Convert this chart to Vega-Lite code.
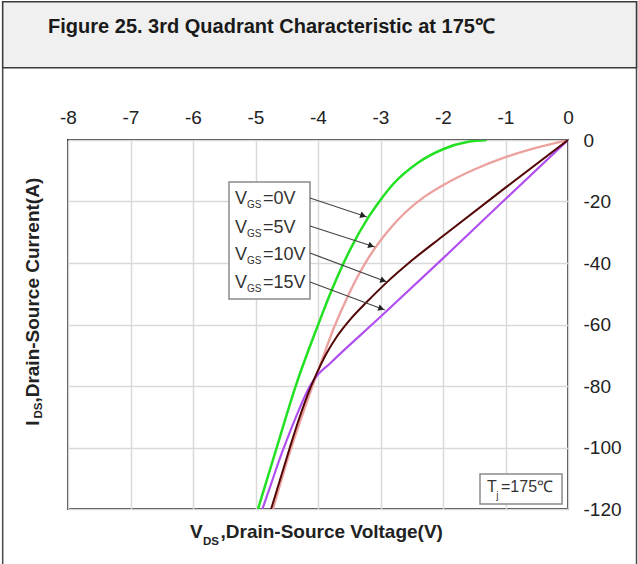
{
  "$schema": "https://vega.github.io/schema/vega-lite/v6.json",
  "width": 500,
  "height": 369,
  "autosize": {"type": "none"},
  "padding": {"left": 68, "top": 140, "right": 70, "bottom": 55},
  "background": "white",
  "config": {
    "view": {"stroke": "#3c3c3c", "strokeWidth": 2},
    "font": "Liberation Sans",
    "axis": {
      "grid": true, "gridColor": "#d9d9d9", "gridWidth": 1.5,
      "ticks": false, "domain": false,
      "labelFont": "Liberation Sans", "labelFontSize": 19, "labelColor": "#222222",
      "labelFlush": false, "labelOverlap": false, "title": null
    }
  },
  "datasets": {
    "curves": [
      {"s": "0V", "x": -1.3, "y": 0}, {"s": "0V", "x": -1.6, "y": -0.6}, {"s": "0V", "x": -2.0, "y": -3.0},
      {"s": "0V", "x": -2.4, "y": -7.4}, {"s": "0V", "x": -2.8, "y": -14.4}, {"s": "0V", "x": -3.0, "y": -19.5},
      {"s": "0V", "x": -3.2, "y": -25.3}, {"s": "0V", "x": -3.49, "y": -35.8}, {"s": "0V", "x": -3.78, "y": -48.8},
      {"s": "0V", "x": -4.0, "y": -60.2}, {"s": "0V", "x": -4.34, "y": -79}, {"s": "0V", "x": -4.66, "y": -100},
      {"s": "0V", "x": -4.96, "y": -120},
      {"s": "5V", "x": 0, "y": 0}, {"s": "5V", "x": -0.5, "y": -2.5}, {"s": "5V", "x": -1.0, "y": -5.6},
      {"s": "5V", "x": -1.5, "y": -9.6}, {"s": "5V", "x": -2.0, "y": -14.7}, {"s": "5V", "x": -2.3, "y": -18.5},
      {"s": "5V", "x": -2.6, "y": -23.5}, {"s": "5V", "x": -2.8, "y": -27.7}, {"s": "5V", "x": -3.0, "y": -32.7},
      {"s": "5V", "x": -3.2, "y": -38.6}, {"s": "5V", "x": -3.5, "y": -49.8}, {"s": "5V", "x": -3.75, "y": -61.3},
      {"s": "5V", "x": -3.95, "y": -72.3}, {"s": "5V", "x": -4.2, "y": -86.5}, {"s": "5V", "x": -4.45, "y": -101.5},
      {"s": "5V", "x": -4.72, "y": -120},
      {"s": "15V", "x": 0, "y": 0}, {"s": "15V", "x": -1.0, "y": -19.2}, {"s": "15V", "x": -2.0, "y": -38.5},
      {"s": "15V", "x": -3.0, "y": -57.5}, {"s": "15V", "x": -3.8, "y": -72.5}, {"s": "15V", "x": -4.05, "y": -77.5},
      {"s": "15V", "x": -4.15, "y": -80.8}, {"s": "15V", "x": -4.3, "y": -87.5}, {"s": "15V", "x": -4.45, "y": -95},
      {"s": "15V", "x": -4.6, "y": -103}, {"s": "15V", "x": -4.75, "y": -111.8}, {"s": "15V", "x": -4.89, "y": -120},
      {"s": "10V", "x": 0, "y": 0}, {"s": "10V", "x": -1.0, "y": -15.5}, {"s": "10V", "x": -2.0, "y": -31.2},
      {"s": "10V", "x": -2.5, "y": -39.2}, {"s": "10V", "x": -2.9, "y": -46.3}, {"s": "10V", "x": -3.22, "y": -52.7},
      {"s": "10V", "x": -3.49, "y": -58.5}, {"s": "10V", "x": -3.7, "y": -64}, {"s": "10V", "x": -3.86, "y": -69.3},
      {"s": "10V", "x": -4.0, "y": -75}, {"s": "10V", "x": -4.13, "y": -81}, {"s": "10V", "x": -4.3, "y": -90.5},
      {"s": "10V", "x": -4.45, "y": -100}, {"s": "10V", "x": -4.6, "y": -110}, {"s": "10V", "x": -4.75, "y": -120}
    ],
    "arrows": [
      {"x": -4.128, "y": -18.86, "x2": -3.216, "y2": -25.04},
      {"x": -4.128, "y": -27.97, "x2": -3.088, "y2": -34.8},
      {"x": -4.128, "y": -36.75, "x2": -2.896, "y2": -46.18},
      {"x": -4.128, "y": -46.18, "x2": -2.928, "y2": -55.28}
    ],
    "heads": [
      {"x": -3.277, "y": -24.62}, {"x": -3.149, "y": -34.4},
      {"x": -2.955, "y": -45.72}, {"x": -2.987, "y": -54.83}
    ]
  },
  "encoding": {
    "x": {
      "field": "x", "type": "quantitative",
      "scale": {"domain": [-8, 0], "nice": false, "zero": false},
      "axis": {"orient": "top", "values": [-8, -7, -6, -5, -4, -3, -2, -1, 0], "labelPadding": 13, "labelExpr": "datum.value + ''"}
    },
    "y": {
      "field": "y", "type": "quantitative",
      "scale": {"domain": [-120, 0], "nice": false, "zero": false},
      "axis": {"orient": "right", "values": [0, -20, -40, -60, -80, -100, -120], "labelAlign": "left", "labelBaseline": "middle", "labelPadding": 15, "labelExpr": "datum.value + ''"}
    }
  },
  "layer": [
    {
      "data": {"values": [{"x": -9.045, "x2": 1.096, "y": 45, "y2": -140}]},
      "mark": {"type": "rect", "fill": "white", "fillOpacity": 0, "stroke": "#4a4a4a", "strokeWidth": 1.5},
      "encoding": {"x2": {"field": "x2"}, "y2": {"field": "y2"}}
    },
    {
      "data": {"values": [{"x": -9.045, "x2": 1.096, "y": 45, "y2": 23.5}]},
      "mark": {"type": "rect", "fill": "#eff0ef", "stroke": "#3a3a3a", "strokeWidth": 1.5},
      "encoding": {"x2": {"field": "x2"}, "y2": {"field": "y2"}}
    },
    {
      "data": {"name": "curves"},
      "mark": {"type": "line", "interpolate": "monotone", "clip": true},
      "encoding": {
        "color": {"field": "s", "type": "nominal", "scale": {"domain": ["0V", "5V", "15V", "10V"], "range": ["#22e022", "#eba29e", "#b04ef0", "#520606"]}, "legend": null},
        "strokeWidth": {"field": "s", "type": "nominal", "scale": {"domain": ["0V", "5V", "15V", "10V"], "range": [2.5, 2, 2, 2.5]}, "legend": null}
      }
    },
    {
      "data": {"values": [{"x": -5.424, "x2": -4.128, "y": -13.66, "y2": -51.7}]},
      "mark": {"type": "rect", "fill": "white", "stroke": "#8a8a8a", "strokeWidth": 1.5},
      "encoding": {"x2": {"field": "x2"}, "y2": {"field": "y2"}}
    },
    {
      "data": {"values": [{"x": -1.408, "x2": -0.096, "y": -108.6, "y2": -118.4}]},
      "mark": {"type": "rect", "fill": "white", "stroke": "#8a8a8a", "strokeWidth": 1.5},
      "encoding": {"x2": {"field": "x2"}, "y2": {"field": "y2"}}
    },
    {
      "data": {"name": "arrows"},
      "mark": {"type": "rule", "color": "#444444", "strokeWidth": 1.2},
      "encoding": {"x2": {"field": "x2"}, "y2": {"field": "y2"}}
    },
    {
      "data": {"name": "heads"},
      "mark": {"type": "point", "shape": "triangle-right", "filled": true, "color": "#222222", "size": 45, "angle": 19.5, "opacity": 1},
      "encoding": {}
    },
    {
      "data": {"values": [
        {"t": "V", "x": -5.328, "y": -20.8}, {"t": "V", "x": -5.328, "y": -30.1},
        {"t": "V", "x": -5.328, "y": -39.0}, {"t": "V", "x": -5.328, "y": -48.1}
      ]},
      "mark": {"type": "text", "align": "left", "baseline": "alphabetic", "fontSize": 18, "color": "#333333"},
      "encoding": {"text": {"field": "t"}}
    },
    {
      "data": {"values": [
        {"t": "GS", "x": -5.136, "y": -22.1}, {"t": "GS", "x": -5.136, "y": -31.4},
        {"t": "GS", "x": -5.136, "y": -40.3}, {"t": "GS", "x": -5.136, "y": -49.4}
      ]},
      "mark": {"type": "text", "align": "left", "baseline": "alphabetic", "fontSize": 10, "color": "#333333"},
      "encoding": {"text": {"field": "t"}}
    },
    {
      "data": {"values": [
        {"t": "=0V", "x": -4.88, "y": -20.8}, {"t": "=5V", "x": -4.88, "y": -30.1},
        {"t": "=10V", "x": -4.88, "y": -39.0}, {"t": "=15V", "x": -4.88, "y": -48.1}
      ]},
      "mark": {"type": "text", "align": "left", "baseline": "alphabetic", "fontSize": 18, "color": "#333333"},
      "encoding": {"text": {"field": "t"}}
    },
    {
      "data": {"values": [{"t": "T", "x": -1.296, "y": -114.5}, {"t": "=175℃", "x": -1.072, "y": -114.5}]},
      "mark": {"type": "text", "align": "left", "baseline": "alphabetic", "fontSize": 16, "color": "#333333"},
      "encoding": {"text": {"field": "t"}}
    },
    {
      "data": {"values": [{"t": "j", "x": -1.15, "y": -116.6}]},
      "mark": {"type": "text", "align": "left", "baseline": "alphabetic", "fontSize": 10, "color": "#333333"},
      "encoding": {"text": {"field": "t"}}
    },
    {
      "data": {"values": [{"t": "Figure 25. 3rd Quadrant Characteristic at 175℃", "x": -4.744, "y": 34.8}]},
      "mark": {"type": "text", "align": "center", "baseline": "alphabetic", "fontSize": 20, "fontWeight": "bold", "color": "#1a1a1a"},
      "encoding": {"text": {"field": "t"}}
    },
    {
      "data": {"values": [{"t": "V", "x": -6.048, "y": -129.4}, {"t": ",Drain-Source Voltage(V)", "x": -5.56, "y": -129.4}]},
      "mark": {"type": "text", "align": "left", "baseline": "alphabetic", "fontSize": 19, "fontWeight": "bold", "color": "#222222"},
      "encoding": {"text": {"field": "t"}}
    },
    {
      "data": {"values": [{"t": "DS", "x": -5.84, "y": -131.7}]},
      "mark": {"type": "text", "align": "left", "baseline": "alphabetic", "fontSize": 11.5, "fontWeight": "bold", "color": "#222222"},
      "encoding": {"text": {"field": "t"}}
    },
    {
      "data": {"values": [{"t": "I", "x": -8.464, "y": -92.9}, {"t": ",Drain-Source Current(A)", "x": -8.464, "y": -85.4}]},
      "mark": {"type": "text", "align": "left", "baseline": "alphabetic", "angle": 270, "fontSize": 19, "fontWeight": "bold", "color": "#222222"},
      "encoding": {"text": {"field": "t"}}
    },
    {
      "data": {"values": [{"t": "DS", "x": -8.416, "y": -90.6}]},
      "mark": {"type": "text", "align": "left", "baseline": "alphabetic", "angle": 270, "fontSize": 11.5, "fontWeight": "bold", "color": "#222222"},
      "encoding": {"text": {"field": "t"}}
    }
  ]
}
